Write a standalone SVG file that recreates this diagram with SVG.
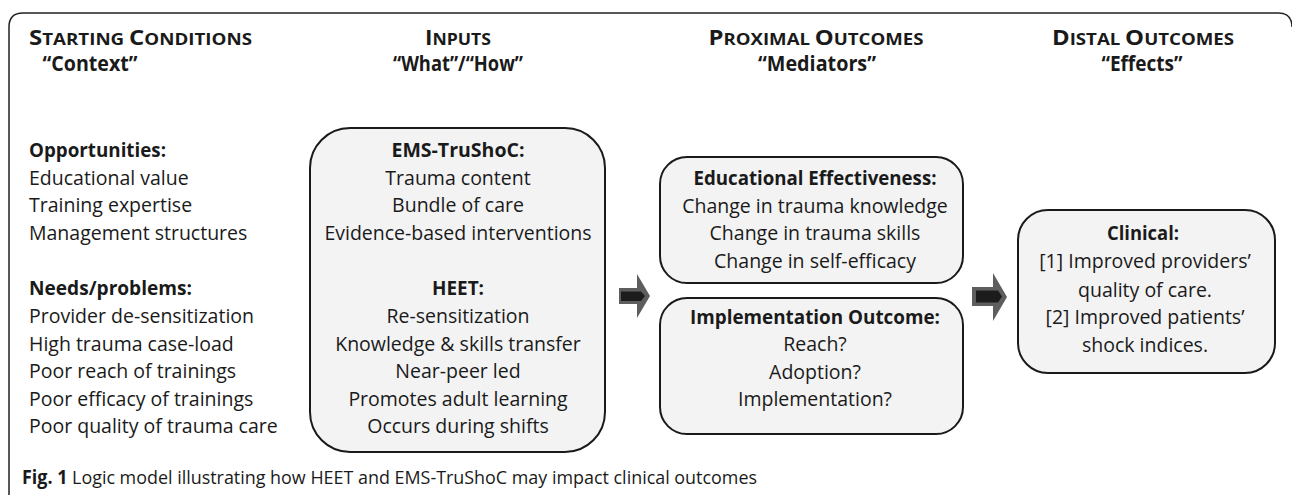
<svg xmlns="http://www.w3.org/2000/svg" width="1292" height="495" viewBox="0 0 1292 495">
  <style>
    .t { font-family: "Open Sans", "Liberation Sans", sans-serif; font-size: 19.5px; fill: #1a1a1a; }
    .b { font-weight: 700; }
    .c { text-anchor: middle; }
    .h { font-family: "Open Sans", "Liberation Sans", sans-serif; font-weight: 700; fill: #1a1a1a; font-size: 20.5px; }
    .sc { font-size: 16px; }
    .q { font-family: "Open Sans", "Liberation Sans", sans-serif; font-weight: 700; fill: #1a1a1a; font-size: 20.5px; text-anchor: middle; }
    .box { fill: #f3f3f3; stroke: #1a1a1a; stroke-width: 2; }
    .arrow-outer { fill: #5e5e5e; }
    .arrow-inner { fill: #1c1c1c; }
    .frame { fill: none; stroke: #222; stroke-width: 1.5; }
    .cap { font-family: "Open Sans", "Liberation Sans", sans-serif; font-size: 19px; fill: #1a1a1a; }
  </style>

  <rect width="1292" height="495" fill="#ffffff"/>

  <!-- outer frame: left and top edges with rounded corners -->
  <path class="frame" d="M9,495 V27 Q9,13 23,13 H1278 Q1292,13 1292,27"/>

  <!-- column headings -->
  <g id="headings">
    <text class="h" x="29" y="45" textLength="223" lengthAdjust="spacingAndGlyphs">S<tspan class="sc">TARTING </tspan>C<tspan class="sc">ONDITIONS</tspan></text>
    <text class="q" x="90" y="71" textLength="95" lengthAdjust="spacingAndGlyphs">“Context”</text>
    <text class="h c" x="458" y="45" textLength="66" lengthAdjust="spacingAndGlyphs">I<tspan class="sc">NPUTS</tspan></text>
    <text class="q" x="458" y="71" textLength="130" lengthAdjust="spacingAndGlyphs">“What”/“How”</text>
    <text class="h c" x="816" y="45" textLength="215" lengthAdjust="spacingAndGlyphs">P<tspan class="sc">ROXIMAL </tspan>O<tspan class="sc">UTCOMES</tspan></text>
    <text class="q" x="817" y="71" textLength="118" lengthAdjust="spacingAndGlyphs">“Mediators”</text>
    <text class="h c" x="1143" y="45" textLength="182" lengthAdjust="spacingAndGlyphs">D<tspan class="sc">ISTAL </tspan>O<tspan class="sc">UTCOMES</tspan></text>
    <text class="q" x="1142" y="71" textLength="81" lengthAdjust="spacingAndGlyphs">“Effects”</text>
  </g>

  <!-- starting conditions list -->
  <g id="context">
    <text class="t b" x="29" y="157" textLength="137" lengthAdjust="spacingAndGlyphs">Opportunities:</text>
    <text class="t" x="29" y="184.5">Educational value</text>
    <text class="t" x="29" y="212">Training expertise</text>
    <text class="t" x="29" y="239.5">Management structures</text>
    <text class="t b" x="29" y="295" textLength="163" lengthAdjust="spacingAndGlyphs">Needs/problems:</text>
    <text class="t" x="29" y="322.5">Provider de-sensitization</text>
    <text class="t" x="29" y="350.5">High trauma case-load</text>
    <text class="t" x="29" y="378">Poor reach of trainings</text>
    <text class="t" x="29" y="406">Poor efficacy of trainings</text>
    <text class="t" x="29" y="433">Poor quality of trauma care</text>
  </g>

  <!-- inputs -->
  <g id="inputs">
    <rect class="box" x="310" y="128" width="295" height="324" rx="40" ry="40"/>
    <text class="t b c" x="458" y="157" textLength="133" lengthAdjust="spacingAndGlyphs">EMS-TruShoC:</text>
    <text class="t c" x="458" y="184.5">Trauma content</text>
    <text class="t c" x="458" y="212">Bundle of care</text>
    <text class="t c" x="458" y="239.5">Evidence-based interventions</text>
    <text class="t b c" x="458" y="295" textLength="52" lengthAdjust="spacingAndGlyphs">HEET:</text>
    <text class="t c" x="458" y="322.5">Re-sensitization</text>
    <text class="t c" x="458" y="350.5">Knowledge &amp; skills transfer</text>
    <text class="t c" x="458" y="378">Near-peer led</text>
    <text class="t c" x="458" y="406">Promotes adult learning</text>
    <text class="t c" x="458" y="433">Occurs during shifts</text>
  </g>

  <!-- proximal outcomes -->
  <g id="educational-effectiveness">
    <rect class="box" x="660" y="157" width="303" height="126" rx="27" ry="27"/>
    <text class="t b c" x="815" y="185" textLength="243" lengthAdjust="spacingAndGlyphs">Educational Effectiveness:</text>
    <text class="t c" x="815" y="212.5">Change in trauma knowledge</text>
    <text class="t c" x="815" y="240">Change in trauma skills</text>
    <text class="t c" x="815" y="267.5">Change in self-efficacy</text>
  </g>

  <g id="implementation-outcome">
    <rect class="box" x="660" y="298" width="303" height="136" rx="27" ry="27"/>
    <text class="t b c" x="815" y="323.5" textLength="250" lengthAdjust="spacingAndGlyphs">Implementation Outcome:</text>
    <text class="t c" x="815" y="351">Reach?</text>
    <text class="t c" x="815" y="378.5">Adoption?</text>
    <text class="t c" x="815" y="406">Implementation?</text>
  </g>

  <!-- distal outcomes -->
  <g id="clinical">
    <rect class="box" x="1018" y="210" width="257" height="163" rx="30" ry="30"/>
    <text class="t b c" x="1143" y="240" textLength="72" lengthAdjust="spacingAndGlyphs">Clinical:</text>
    <text class="t c" x="1145" y="268">[1] Improved providers’</text>
    <text class="t c" x="1145" y="296.5">quality of care.</text>
    <text class="t c" x="1145" y="323.5">[2] Improved patients’</text>
    <text class="t c" x="1145" y="351.5">shock indices.</text>
  </g>

  <!-- block arrows between columns -->
  <g id="connectors">
    <polygon class="arrow-outer" points="619,288 637,288 637,274 650,296 637,318 637,304 619,304"/>
    <polygon class="arrow-inner" points="621,291.5 641,291.5 645,296 641,301 621,301"/>
    <polygon class="arrow-outer" points="972,287 993,287 993,273 1007,297 993,321 993,306 972,306"/>
    <polygon class="arrow-inner" points="976,290.5 998,290.5 1002,296.5 998,302.5 976,302.5"/>
  </g>

  <!-- caption -->
  <text class="cap" x="22" y="484" textLength="735" lengthAdjust="spacingAndGlyphs"><tspan font-weight="700">Fig. 1</tspan> Logic model illustrating how HEET and EMS-TruShoC may impact clinical outcomes</text>
</svg>
